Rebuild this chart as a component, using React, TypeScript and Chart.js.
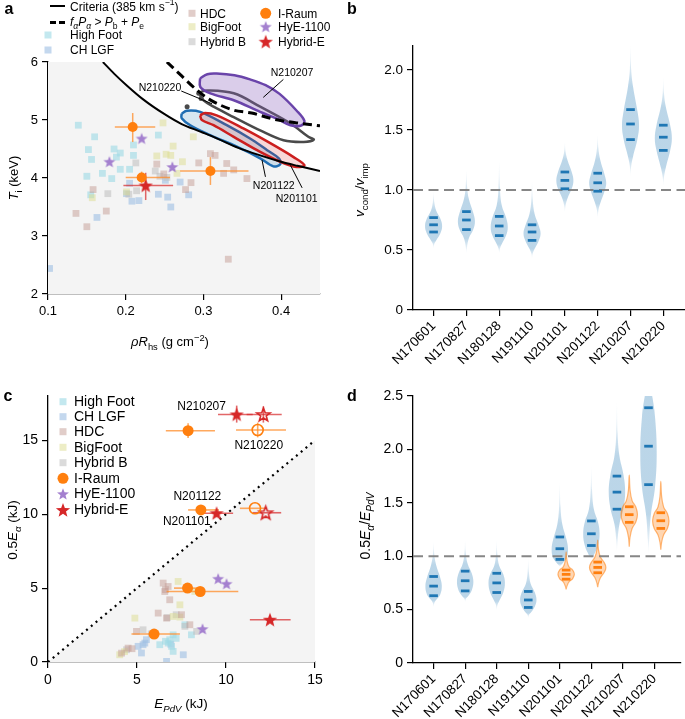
import React, { useEffect, useRef } from 'react';
import { Chart, registerables } from 'chart.js';

Chart.register(...registerables);
const FONT = "'Liberation Sans', Arial, Helvetica, sans-serif";
Chart.defaults.font.family = FONT;
Chart.defaults.color = '#000';

// ---------------- shared ----------------
const SHOTS = ['N170601', 'N170827', 'N180128', 'N191110', 'N201101', 'N201122', 'N210207', 'N210220'];

// ---------------- panel a ----------------
const A_X_RANGE = [0.1, 0.45];
const A_Y_RANGE = [2, 6];
const A_X_TICKS = [0.1, 0.2, 0.3, 0.4];
const A_Y_TICKS = [2, 3, 4, 5, 6];
const A_CRITERIA = [[0.1706, 6.0], [0.185, 5.8], [0.201, 5.6], [0.222, 5.36], [0.25, 5.1], [0.272, 4.93], [0.296, 4.8], [0.318, 4.68], [0.345, 4.52], [0.373, 4.39], [0.4, 4.28], [0.421, 4.21], [0.45, 4.12]];
const A_ALPHA_HEAT = [[0.253, 6.0], [0.272, 5.76], [0.292, 5.51], [0.307, 5.36], [0.339, 5.17], [0.362, 5.12], [0.392, 5.01], [0.42, 4.95], [0.45, 4.9]];
const A_PURPLE = [[0.2957, 5.72], [0.305, 5.79], [0.317, 5.8], [0.34, 5.77], [0.36, 5.7], [0.38, 5.6], [0.398, 5.45], [0.42, 5.16], [0.43, 4.98], [0.425, 4.9], [0.412, 4.91], [0.395, 5.02], [0.373, 5.14], [0.339, 5.34], [0.309, 5.46], [0.296, 5.57]];
const A_GREY = [[0.2957, 5.48], [0.3044, 5.51], [0.339, 5.46], [0.373, 5.23], [0.412, 4.94], [0.435, 4.71], [0.442, 4.66], [0.429, 4.62], [0.403, 4.65], [0.373, 4.82], [0.339, 5.05], [0.313, 5.23], [0.3, 5.34], [0.2957, 5.43]];
const A_GREY_DOTS = [[0.279, 5.23], [0.294, 5.46], [0.297, 5.37]];
const A_BLUE = [[0.272, 5.11], [0.2786, 5.16], [0.2957, 5.14], [0.33, 4.91], [0.36, 4.68], [0.382, 4.48], [0.397, 4.34], [0.399, 4.24], [0.39, 4.2], [0.373, 4.34], [0.343, 4.54], [0.3087, 4.74], [0.283, 4.91], [0.272, 5.03]];
const A_RED = [[0.2957, 5.08], [0.302, 5.12], [0.317, 5.08], [0.352, 4.85], [0.386, 4.6], [0.416, 4.36], [0.43, 4.22], [0.42, 4.19], [0.399, 4.28], [0.369, 4.48], [0.339, 4.71], [0.313, 4.91], [0.298, 5.0]];
const A_HIGH_FOOT = [[0.139, 4.91], [0.16, 4.71], [0.152, 4.49], [0.156, 4.32], [0.185, 4.5], [0.193, 4.43], [0.188, 4.36], [0.21, 4.57], [0.21, 4.39], [0.242, 4.74], [0.17, 4.08], [0.182, 3.99], [0.193, 4.15], [0.205, 4.15], [0.15, 4.03], [0.155, 3.71]];
const A_CH_LGF = [[0.205, 3.91], [0.208, 3.6], [0.217, 3.61], [0.201, 3.73], [0.242, 3.72], [0.254, 3.67], [0.258, 3.5], [0.27, 3.93], [0.281, 3.71], [0.251, 3.96], [0.163, 3.32], [0.102, 2.44]];
const A_HDC = [[0.158, 3.8], [0.136, 3.39], [0.15, 3.16], [0.175, 3.43], [0.24, 4.24], [0.277, 3.8], [0.284, 3.92], [0.294, 4.26], [0.249, 4.07], [0.309, 4.42], [0.315, 4.39], [0.33, 4.25], [0.326, 4.08], [0.339, 4.14], [0.356, 3.99], [0.332, 2.6]];
const A_BIGFOOT = [[0.248, 4.95], [0.261, 4.55], [0.24, 4.38], [0.252, 4.41], [0.258, 4.39], [0.287, 4.71], [0.273, 4.28], [0.266, 4.08], [0.157, 3.66], [0.201, 3.76]];
const A_HYBRID_B = [[0.177, 3.73], [0.213, 4.26], [0.238, 4.12], [0.253, 4.01], [0.214, 3.78], [0.244, 4.03], [0.204, 3.72]];
// [x, y, xLo, xHi, yLo, yHi]
const A_IRAUM = [[0.209, 4.88, 0.186, 0.238, 4.62, 5.12], [0.2205, 4.01, 0.2, 0.257, 3.91, 4.11], [0.309, 4.12, 0.27, 0.358, 3.88, 4.36]];
const A_HYBRID_E = [[0.2257, 3.87, 0.197, 0.261, 3.62, 4.09]];
const A_HYE1100 = [[0.2205, 4.68], [0.179, 4.28], [0.26, 4.19]];
// [label, x, y, lineX1, lineY1, lineX2, lineY2]
const A_LABELS = [
  ['N210207', 0.414, 5.81, 0.4029, 5.7, 0.377, 5.39],
  ['N210220', 0.2441, 5.55, 0.2715, 5.5, 0.311, 5.28],
  ['N201122', 0.3905, 3.86, 0.3798, 4.02, 0.3754, 4.31],
  ['N201101', 0.42, 3.63, 0.427, 3.83, 0.412, 4.22],
];

// ---------------- panel b ----------------
const B_X_RANGE = [-0.627, 7.66];
const B_Y_RANGE = [0, 2.2];
const B_Y_TICKS = [0, 0.5, 1.0, 1.5, 2.0];
const B_PROFILES = [
  [[0.51, 0], [0.55, 0.08], [0.58, 0.3], [0.64, 0.8], [0.7, 1], [0.76, 0.8], [0.83, 0.3], [0.9, 0.08], [0.99, 0]],
  [[0.47, 0], [0.53, 0.08], [0.6, 0.3], [0.67, 0.8], [0.74, 1], [0.81, 0.8], [0.92, 0.3], [1.03, 0.08], [1.17, 0]],
  [[0.47, 0], [0.51, 0.08], [0.55, 0.3], [0.62, 0.8], [0.69, 1], [0.77, 0.8], [0.87, 0.3], [1.02, 0.08], [1.25, 0]],
  [[0.43, 0], [0.47, 0.08], [0.51, 0.3], [0.58, 0.8], [0.64, 1], [0.7, 0.8], [0.8, 0.3], [0.92, 0.08], [1.08, 0]],
  [[0.81, 0], [0.87, 0.08], [0.93, 0.3], [1.01, 0.8], [1.08, 1], [1.15, 0.8], [1.25, 0.3], [1.32, 0.08], [1.4, 0]],
  [[0.76, 0], [0.83, 0.08], [0.89, 0.3], [0.99, 0.8], [1.06, 1], [1.13, 0.8], [1.25, 0.3], [1.35, 0.08], [1.46, 0]],
  [[1.11, 0], [1.2, 0.08], [1.28, 0.3], [1.42, 0.8], [1.54, 1], [1.66, 0.8], [1.86, 0.3], [2.0, 0.08], [2.21, 0]],
  [[1.03, 0], [1.11, 0.08], [1.19, 0.3], [1.33, 0.8], [1.43, 1], [1.54, 0.8], [1.69, 0.3], [1.8, 0.08], [1.94, 0]],
];
const B_QUARTILES = [[0.65, 0.71, 0.77], [0.67, 0.75, 0.82], [0.62, 0.7, 0.78], [0.58, 0.65, 0.71], [1.01, 1.08, 1.15], [0.99, 1.06, 1.14], [1.42, 1.55, 1.67], [1.33, 1.44, 1.54]];

// ---------------- panel c ----------------
const C_X_RANGE = [0, 15];
const C_Y_RANGE = [0, 18];
const C_X_TICKS = [0, 5, 10, 15];
const C_Y_TICKS = [0, 5, 10, 15];
const C_DIAGONAL = [[0, 0], [15, 15]];
const C_HIGH_FOOT = [[6.28, 1.17], [6.84, 1.51], [7.03, 1.84], [7.2, 1.6], [6.94, 1.06], [7.03, 0.72], [7.69, 2.52], [8.06, 1.84], [6.75, 1.28], [6.6, 1.4]];
const C_CH_LGF = [[5.44, 1.28], [5.53, 1.51], [5.06, 1.06], [5.25, 0.61], [6.66, 0.04], [7.6, 0.49], [5.34, 1.17], [6.9, 1.2]];
const C_HDC = [[6.47, 5.34], [6.75, 5.11], [6.56, 4.77], [6.84, 4.21], [6.19, 3.31], [6.66, 2.97], [7.5, 3.2], [4.97, 2.07], [7.97, 2.52], [4.5, 0.94], [4.13, 0.6], [4.72, 0.9], [6.6, 4.9]];
const C_BIGFOOT = [[7.31, 5.45], [7.41, 3.87], [4.88, 2.97], [7.03, 3.08], [7.41, 3.04], [4.03, 0.49], [8.25, 4.77], [4.3, 0.7]];
const C_HYBRID_B = [[5.34, 2.18], [7.69, 2.41], [4.41, 0.83], [8.35, 2.07], [7.2, 3.2], [6.7, 3.0], [5.8, 1.9]];
const C_IRAUM = [[7.87, 15.65, 6.62, 9.38, 15.15, 16.15], [8.59, 10.29, 7.87, 9.6, null, null], [7.84, 5.0, 7.08, 8.63, null, null], [8.55, 4.77, 6.66, 10.69, null, null], [5.96, 1.89, 4.69, 7.41, null, null]];
const C_IRAUM_OPEN = [[11.78, 15.7, 10.56, 13.37, 15.2, 16.2], [11.63, 10.4, 10.78, 12.28, null, null]];
const C_HYBRID_E = [[10.6, 16.75, 9.55, 11.5, 16.2, 17.35], [9.47, 10.07, 8.53, 10.4, null, null], [12.47, 2.86, 11.34, 13.63, null, null]];
const C_HYBRID_E_OPEN = [[12.1, 16.75, 11.16, 13.13, 16.2, 17.3], [12.23, 10.1, 11.5, 13.1, null, null]];
const C_HYE1100 = [[9.56, 5.63], [10.03, 5.29], [8.68, 2.23]];
const C_LABELS = [['N210207', 8.63, 17.25], ['N210220', 11.84, 14.63], ['N201122', 8.39, 11.18], ['N201101', 7.8, 9.5]];

// ---------------- panel d ----------------
const D_X_RANGE = [-0.653, 7.84];
const D_Y_RANGE = [0, 2.5];
const D_Y_TICKS = [0, 0.5, 1.0, 1.5, 2.0, 2.5];
const D_BLUE_SHIFT = [0, 0, 0, 0, 0, 0, -0.19, -0.19];
const D_BLUE_PROFILES = [
  [[0.52, 0], [0.56, 0.08], [0.59, 0.3], [0.64, 0.8], [0.72, 1], [0.8, 0.8], [0.92, 0.3], [1.02, 0.08], [1.14, 0]],
  [[0.57, 0], [0.6, 0.08], [0.62, 0.3], [0.68, 0.8], [0.76, 1], [0.84, 0.8], [0.93, 0.3], [1.03, 0.08], [1.15, 0]],
  [[0.49, 0], [0.54, 0.08], [0.58, 0.3], [0.66, 0.8], [0.75, 1], [0.83, 0.8], [0.91, 0.3], [1.02, 0.08], [1.15, 0]],
  [[0.42, 0], [0.45, 0.08], [0.47, 0.3], [0.53, 0.8], [0.59, 1], [0.66, 0.8], [0.74, 0.3], [0.85, 0.08], [0.98, 0]],
  [[0.9, 0], [0.91, 0.08], [0.93, 0.3], [0.98, 0.8], [1.06, 1], [1.16, 0.8], [1.3, 0.3], [1.47, 0.08], [1.7, 0]],
  [[0.98, 0], [0.99, 0.08], [1.01, 0.3], [1.1, 0.8], [1.21, 1], [1.32, 0.8], [1.44, 0.3], [1.62, 0.08], [1.85, 0]],
  [[1.03, 0], [1.15, 0.08], [1.3, 0.3], [1.45, 0.8], [1.6, 1], [1.76, 0.8], [1.94, 0.3], [2.15, 0.08], [2.45, 0]],
  [[1.01, 0], [1.15, 0.08], [1.39, 0.3], [1.65, 0.8], [1.97, 1], [2.3, 0.8], [2.5, 0.45], [2.56, 0.2], [2.62, 0]],
];
const D_BLUE_QUARTILES = [[0.63, 0.72, 0.81], [0.675, 0.77, 0.86], [0.66, 0.75, 0.84], [0.52, 0.59, 0.67], [0.97, 1.07, 1.18], [1.1, 1.21, 1.33], [1.44, 1.6, 1.75], [1.67, 2.03, 2.39]];
const D_ORANGE_SHOTS = [4, 5, 6, 7];
const D_ORANGE_SHIFT = 0.2;
const D_ORANGE_PROFILES = [
  [[0.69, 0], [0.72, 0.1], [0.76, 0.35], [0.79, 0.8], [0.83, 1], [0.87, 0.8], [0.9, 0.35], [0.96, 0.1], [1.04, 0]],
  [[0.71, 0], [0.75, 0.1], [0.8, 0.35], [0.85, 0.8], [0.895, 1], [0.94, 0.8], [0.99, 0.35], [1.06, 0.1], [1.15, 0]],
  [[1.09, 0], [1.18, 0.1], [1.26, 0.35], [1.32, 0.8], [1.39, 1], [1.46, 0.8], [1.52, 0.35], [1.62, 0.1], [1.76, 0]],
  [[1.06, 0], [1.13, 0.1], [1.2, 0.35], [1.26, 0.8], [1.33, 1], [1.4, 0.8], [1.46, 0.35], [1.56, 0.1], [1.7, 0]],
];
const D_ORANGE_QUARTILES = [[0.785, 0.83, 0.87], [0.845, 0.895, 0.945], [1.317, 1.389, 1.463], [1.26, 1.332, 1.407]];

// ---------------- styles ----------------
const COL_HIGH_FOOT = 'rgba(158,218,229,0.62)';
const COL_CH_LGF = 'rgba(160,192,228,0.62)';
const COL_HDC = 'rgba(196,156,148,0.5)';
const COL_BIGFOOT = 'rgba(219,219,141,0.5)';
const COL_HYBRID_B = 'rgba(190,190,190,0.55)';
const ORANGE = '#ff7f0e';
const ORANGE_ERR = 'rgba(255,140,40,0.75)';
const RED = '#d62728';
const RED_ERR = 'rgba(214,39,40,0.7)';
const PURPLE = '#a480cf';
const SHADE = '#f4f4f4';
const VIOLIN_HW = 0.26;

type Run = { t: string; i?: boolean; s?: 'sub' | 'sup' };
const runFont = (r: Run, size: number, bold = false) =>
  `${r.i ? 'italic ' : ''}${bold ? 'bold ' : ''}${r.s ? (size * 0.72).toFixed(1) : size}px ${FONT}`;

function drawRich(ctx: any, runs: Run[], x: number, y: number, size: number, align = 'left', rot = 0) {
  ctx.save();
  ctx.translate(x, y);
  if (rot) ctx.rotate(rot);
  ctx.fillStyle = '#000';
  ctx.textBaseline = 'alphabetic';
  ctx.textAlign = 'left';
  let w = 0;
  for (const r of runs) { ctx.font = runFont(r, size); w += ctx.measureText(r.t).width; }
  let cx = align === 'center' ? -w / 2 : align === 'right' ? -w : 0;
  for (const r of runs) {
    ctx.font = runFont(r, size);
    const dy = r.s === 'sub' ? size * 0.28 : r.s === 'sup' ? -size * 0.42 : 0;
    ctx.fillText(r.t, cx, dy);
    cx += ctx.measureText(r.t).width;
  }
  ctx.restore();
}

function plainText(ctx: any, t: string, x: number, y: number, size: number, align = 'center', bold = false) {
  ctx.save();
  ctx.font = `${bold ? 'bold ' : ''}${size}px ${FONT}`;
  ctx.fillStyle = '#000';
  ctx.textAlign = align;
  ctx.textBaseline = 'middle';
  ctx.fillText(t, x, y);
  ctx.restore();
}

const starCache = new Map();
function starImage(R: number, fill: string | null, stroke: string | null, lw: number) {
  const key = `${R}|${fill}|${stroke}|${lw}`;
  if (starCache.has(key)) return starCache.get(key);
  const c = document.createElement('canvas');
  const s = Math.ceil(2 * R + lw + 3);
  c.width = s; c.height = s;
  const g = c.getContext('2d') as CanvasRenderingContext2D;
  const cx = s / 2, cy = s / 2 + R * 0.08, r = R * 0.42;
  g.beginPath();
  for (let k = 0; k < 10; k++) {
    const a = -Math.PI / 2 + (k * Math.PI) / 5;
    const rr = k % 2 === 0 ? R : r;
    g.lineTo(cx + rr * Math.cos(a), cy + rr * Math.sin(a));
  }
  g.closePath();
  if (fill) { g.fillStyle = fill; g.fill(); }
  if (stroke) { g.strokeStyle = stroke; g.lineWidth = lw; g.lineJoin = 'miter'; g.stroke(); }
  starCache.set(key, c);
  return c;
}

const pts = (arr: number[][]) => arr.map(([x, y]) => ({ x, y }));

function squares(arr: number[][], color: string, order = 10) {
  return { data: pts(arr), pointStyle: 'rect', pointRadius: 4.8, backgroundColor: color, borderWidth: 0, borderColor: 'transparent', showLine: false, order };
}
function polygon(arr: number[][], border: string, fillColor: string | null, width: number, order: number) {
  const d = pts(arr);
  d.push({ ...d[0] });
  return { data: d, showLine: true, fill: fillColor ? 'shape' : false, backgroundColor: fillColor || 'transparent', borderColor: border, borderWidth: width, pointRadius: 0, tension: 0.35, order, borderJoinStyle: 'round' };
}
function segment(data: any[], color: string, width: number, order = 3, dash: number[] = []) {
  return { data, showLine: true, fill: false, borderColor: color, borderWidth: width, pointRadius: 0, order, borderDash: dash, tension: 0 };
}
function errorBars(rows: any[], color: string, width: number) {
  const out: any[] = [];
  for (const [x, y, xl, xh, yl, yh] of rows) {
    if (xl != null) out.push(segment([{ x: xl, y }, { x: xh, y }], color, width));
    if (yl != null) out.push(segment([{ x, y: yl }, { x, y: yh }], color, width));
  }
  return out;
}
function markers(rows: any[], style: any, radius: number, bg: string, border: string, bw: number, order = 1) {
  return { data: rows.map((r) => ({ x: r[0], y: r[1] })), pointStyle: style, pointRadius: radius, backgroundColor: bg, borderColor: border, borderWidth: bw, showLine: false, order };
}

function violinFill(profile: number[][], rgb: string, alpha: number, tailAlpha: number) {
  return (c: any) => {
    const chart = c.chart;
    const ys = chart && chart.scales && chart.scales.y;
    if (!chart || !chart.chartArea || !ys) return `rgba(${rgb},${alpha})`;
    const lo = profile[0][0], hi = profile[profile.length - 1][0];
    const bLo = profile[2][0], bHi = profile[6][0];
    const p0 = ys.getPixelForValue(lo), p1 = ys.getPixelForValue(hi);
    if (!isFinite(p0) || !isFinite(p1) || p0 === p1) return `rgba(${rgb},${alpha})`;
    const g = chart.ctx.createLinearGradient(0, p0, 0, p1);
    const f = (v: number) => Math.min(1, Math.max(0, (v - lo) / (hi - lo)));
    g.addColorStop(0, `rgba(${rgb},${tailAlpha})`);
    g.addColorStop(f(bLo), `rgba(${rgb},${alpha})`);
    g.addColorStop(f(bHi), `rgba(${rgb},${alpha})`);
    g.addColorStop(1, `rgba(${rgb},${tailAlpha})`);
    return g;
  };
}
function violin(center: number, profile: number[][], rgb: string, alpha: number, tailAlpha: number, border: string, bw: number) {
  const right = profile.map(([y, w]) => ({ x: center + w * VIOLIN_HW, y }));
  const left = profile.slice().reverse().map(([y, w]) => ({ x: center - w * VIOLIN_HW, y }));
  return { data: [...right, ...left.slice(1)], showLine: true, fill: 'shape', backgroundColor: violinFill(profile, rgb, alpha, tailAlpha), borderColor: border, borderWidth: bw, pointRadius: 0, tension: 0.4, order: 6 };
}
function quartileMarks(centers: number[], quartiles: number[][], color: string) {
  const data: any[] = [];
  quartiles.forEach((q, i) => q.forEach((v) => data.push({ x: centers[i], y: v })));
  return { data, pointStyle: 'line', pointRadius: 4.3, borderWidth: 2.8, borderColor: color, backgroundColor: color, showLine: false, order: 1 };
}

function linScale(range: number[], ticks: number[], fmt: (v: number) => string, size: number, fitProp: string, fitVal: number, extraTicks: any = {}) {
  return {
    type: 'linear', min: range[0], max: range[1],
    afterBuildTicks: (s: any) => { s.ticks = ticks.map((v) => ({ value: v })); },
    afterFit: (s: any) => { s[fitProp] = fitVal; s.paddingLeft = 0; s.paddingRight = 0; s.paddingTop = 0; s.paddingBottom = 0; },
    ticks: { callback: (v: number) => fmt(v), font: { size, family: FONT }, color: '#000', padding: 4, autoSkip: false, maxRotation: 0, minRotation: 0, ...extraTicks },
    grid: { display: true, drawOnChartArea: false, drawTicks: true, tickLength: 6, color: '#000', tickColor: '#000', tickWidth: 1.2, lineWidth: 1.2 },
    border: { display: true, color: '#000', width: 1.3 },
  };
}

function baseOptions(padding: any, x: any, y: any) {
  return {
    responsive: false, animation: false, devicePixelRatio: 1, events: [],
    layout: { padding, autoPadding: false },
    plugins: { legend: { display: false }, tooltip: { enabled: false } },
    scales: { x, y },
  };
}

const fmt1 = (v: number) => (v === 0 ? '0' : v.toFixed(1));

// ---------------- builders ----------------
function buildA() {
  const redStar = starImage(7.5, RED, null, 0);
  const purpleStar = starImage(6.3, PURPLE, null, 0);
  const datasets: any[] = [
    { data: pts([[A_X_RANGE[0], A_Y_RANGE[1]], ...A_CRITERIA]), showLine: true, fill: 'start', backgroundColor: SHADE, borderWidth: 0, borderColor: 'transparent', pointRadius: 0, cubicInterpolationMode: 'monotone', order: 30 },
    squares(A_HDC, COL_HDC), squares(A_BIGFOOT, COL_BIGFOOT), squares(A_HYBRID_B, COL_HYBRID_B), squares(A_HIGH_FOOT, COL_HIGH_FOOT), squares(A_CH_LGF, COL_CH_LGF),
    polygon(A_PURPLE, '#6a44aa', 'rgba(140,100,190,0.32)', 2.5, 8),
    polygon(A_GREY, '#4a4a4a', null, 2.5, 8),
    { data: pts(A_GREY_DOTS), pointStyle: 'circle', pointRadius: 2.5, backgroundColor: '#4a4a4a', borderWidth: 0, showLine: false, order: 8 },
    polygon(A_BLUE, '#1f6db3', 'rgba(31,119,180,0.18)', 2.5, 8),
    polygon(A_RED, '#cc1f1f', 'rgba(214,39,40,0.18)', 2.5, 7),
    { data: pts(A_CRITERIA), showLine: true, fill: false, borderColor: '#000', borderWidth: 2, pointRadius: 0, cubicInterpolationMode: 'monotone', order: 5 },
    { data: pts(A_ALPHA_HEAT), showLine: true, fill: false, borderColor: '#000', borderWidth: 3, borderDash: [9, 5], pointRadius: 0, cubicInterpolationMode: 'monotone', order: 5 },
    ...errorBars(A_IRAUM, ORANGE_ERR, 1.5),
    ...errorBars(A_HYBRID_E, RED_ERR, 1.5),
    markers(A_IRAUM, 'circle', 5, ORANGE, ORANGE, 0),
    markers(A_HYE1100, purpleStar, 6, PURPLE, PURPLE, 0),
    markers(A_HYBRID_E, redStar, 6, RED, RED, 0),
  ];
  const deco = {
    id: 'decoA',
    afterDraw(chart: any) {
      const ctx = chart.ctx, xs = chart.scales.x, ys = chart.scales.y;
      plainText(ctx, 'a', 9, 10, 16, 'center', true);
      // legend
      ctx.save();
      ctx.strokeStyle = '#000'; ctx.lineWidth = 2;
      ctx.beginPath(); ctx.moveTo(50, 6); ctx.lineTo(65, 6); ctx.stroke();
      ctx.lineWidth = 3; ctx.setLineDash([6, 3]);
      ctx.beginPath(); ctx.moveTo(50, 22.5); ctx.lineTo(66, 22.5); ctx.stroke();
      ctx.setLineDash([]);
      const sqr = (x: number, y: number, c: string) => { ctx.fillStyle = c; ctx.fillRect(x - 3.5, y - 3.5, 7, 7); };
      sqr(48, 35, COL_HIGH_FOOT); sqr(48, 50, COL_CH_LGF);
      sqr(192, 13.3, COL_HDC); sqr(192, 26.7, COL_BIGFOOT); sqr(192, 41.7, COL_HYBRID_B);
      ctx.fillStyle = ORANGE; ctx.beginPath(); ctx.arc(265.7, 13.3, 5.5, 0, Math.PI * 2); ctx.fill();
      ctx.drawImage(purpleStar, 265.7 - purpleStar.width / 2, 26.7 - purpleStar.height / 2);
      ctx.drawImage(redStar, 265.7 - redStar.width / 2, 41.7 - redStar.height / 2);
      ctx.restore();
      drawRich(ctx, [{ t: 'Criteria (385 km s' }, { t: '−1', s: 'sup' }, { t: ')' }], 70, 10.5, 12);
      drawRich(ctx, [{ t: 'f', i: true }, { t: 'α', i: true, s: 'sub' }, { t: 'P', i: true }, { t: 'α', i: true, s: 'sub' }, { t: ' > ' }, { t: 'P', i: true }, { t: 'b', s: 'sub' }, { t: ' + ' }, { t: 'P', i: true }, { t: 'e', s: 'sub' }], 70, 25.5, 12);
      drawRich(ctx, [{ t: 'High Foot' }], 70, 39.3, 12);
      drawRich(ctx, [{ t: 'CH LGF' }], 70, 54, 12);
      drawRich(ctx, [{ t: 'HDC' }], 200, 17.5, 12);
      drawRich(ctx, [{ t: 'BigFoot' }], 200, 31, 12);
      drawRich(ctx, [{ t: 'Hybrid B' }], 200, 46, 12);
      drawRich(ctx, [{ t: 'I-Raum' }], 278, 17.5, 12);
      drawRich(ctx, [{ t: 'HyE-1100' }], 278, 31, 12);
      drawRich(ctx, [{ t: 'Hybrid-E' }], 278, 46, 12);
      // annotations
      ctx.save();
      ctx.strokeStyle = '#000'; ctx.lineWidth = 1;
      for (const [t, x, y, x1, y1, x2, y2] of A_LABELS as any[]) {
        ctx.beginPath(); ctx.moveTo(xs.getPixelForValue(x1), ys.getPixelForValue(y1)); ctx.lineTo(xs.getPixelForValue(x2), ys.getPixelForValue(y2)); ctx.stroke();
        plainText(ctx, t, xs.getPixelForValue(x), ys.getPixelForValue(y), 10.5);
      }
      ctx.restore();
      // axis titles
      drawRich(ctx, [{ t: 'T', i: true }, { t: 'i', s: 'sub' }, { t: ' (keV)' }], 18, 178, 13, 'center', -Math.PI / 2);
      drawRich(ctx, [{ t: 'ρR', i: true }, { t: 'hs', s: 'sub' }, { t: ' (g cm' }, { t: '−2', s: 'sup' }, { t: ')' }], 170, 346, 13, 'center');
    },
  };
  return {
    type: 'scatter',
    data: { datasets },
    options: baseOptions({ left: 0, top: 62, right: 20, bottom: 0 },
      linScale(A_X_RANGE, A_X_TICKS, (v) => v.toFixed(1), 13, 'height', 61),
      linScale(A_Y_RANGE, A_Y_TICKS, (v) => String(v), 13, 'width', 48)),
    plugins: [deco],
  };
}

function buildB() {
  const centers = SHOTS.map((_, i) => i);
  const datasets: any[] = [
    ...B_PROFILES.map((p, i) => violin(centers[i], p, '31,119,180', 0.3, 0.0, 'transparent', 0)),
    quartileMarks(centers, B_QUARTILES, '#1f77b4'),
    segment([{ x: B_X_RANGE[0], y: 1 }, { x: B_X_RANGE[1], y: 1 }], 'rgba(128,128,128,0.95)', 2, 2, [10, 5.5]),
  ];
  const deco = {
    id: 'decoB',
    afterDraw(chart: any) {
      const ctx = chart.ctx;
      plainText(ctx, 'b', 12, 10, 16, 'center', true);
      drawRich(ctx, [{ t: 'v', i: true }, { t: 'cond', s: 'sub' }, { t: '/' }, { t: 'v', i: true }, { t: 'imp', s: 'sub' }], 24, 190, 13.5, 'center', -Math.PI / 2);
    },
  };
  return {
    type: 'scatter',
    data: { datasets },
    options: baseOptions({ left: 0, top: 46, right: 0, bottom: 0 },
      linScale(B_X_RANGE, centers, (v) => SHOTS[v] || '', 13.5, 'height', 80, { minRotation: 45, maxRotation: 45, padding: 2 }),
      linScale(B_Y_RANGE, B_Y_TICKS, fmt1, 13.5, 'width', 73)),
    plugins: [deco],
  };
}

function buildC() {
  const redStar = starImage(7.5, RED, null, 0);
  const redStarOpen = starImage(7, null, RED, 1.6);
  const purpleStar = starImage(6.3, PURPLE, null, 0);
  const datasets: any[] = [
    { data: pts(C_DIAGONAL), showLine: true, fill: 'start', backgroundColor: SHADE, borderColor: '#000', borderWidth: 2.2, borderDash: [2, 4.2], pointRadius: 0, order: 30 },
    squares(C_HDC, COL_HDC), squares(C_BIGFOOT, COL_BIGFOOT), squares(C_HYBRID_B, COL_HYBRID_B), squares(C_HIGH_FOOT, COL_HIGH_FOOT), squares(C_CH_LGF, COL_CH_LGF),
    ...errorBars(C_IRAUM, ORANGE_ERR, 1.6),
    ...errorBars(C_IRAUM_OPEN, ORANGE_ERR, 1.6),
    ...errorBars(C_HYBRID_E, RED_ERR, 1.6),
    ...errorBars(C_HYBRID_E_OPEN, RED_ERR, 1.6),
    markers(C_IRAUM, 'circle', 5.5, ORANGE, ORANGE, 0),
    markers(C_IRAUM_OPEN, 'circle', 5.5, 'transparent', ORANGE, 1.6),
    markers(C_HYE1100, purpleStar, 6, PURPLE, PURPLE, 0),
    markers(C_HYBRID_E, redStar, 6, RED, RED, 0),
    markers(C_HYBRID_E_OPEN, redStarOpen, 6, 'transparent', RED, 0),
  ];
  const deco = {
    id: 'decoC',
    afterDraw(chart: any) {
      const ctx = chart.ctx, xs = chart.scales.x, ys = chart.scales.y;
      plainText(ctx, 'c', 8, 37, 16, 'center', true);
      const rows = [41.7, 56.7, 71.7, 87.3, 102.7, 118.3, 134, 150];
      const names = ['High Foot', 'CH LGF', 'HDC', 'BigFoot', 'Hybrid B', 'I-Raum', 'HyE-1100', 'Hybrid-E'];
      const cols = [COL_HIGH_FOOT, COL_CH_LGF, COL_HDC, COL_BIGFOOT, COL_HYBRID_B];
      ctx.save();
      rows.forEach((y, i) => {
        if (i < 5) { ctx.fillStyle = cols[i]; ctx.fillRect(63 - 3.5, y - 3.5, 7, 7); }
        else if (i === 5) { ctx.fillStyle = ORANGE; ctx.beginPath(); ctx.arc(63, y, 5.5, 0, Math.PI * 2); ctx.fill(); }
        else { const img = i === 6 ? purpleStar : redStar; ctx.drawImage(img, 63 - img.width / 2, y - img.height / 2); }
      });
      ctx.restore();
      rows.forEach((y, i) => plainText(ctx, names[i], 74, y + 0.5, 14, 'left'));
      for (const [t, x, y] of C_LABELS as any[]) plainText(ctx, t, xs.getPixelForValue(x), ys.getPixelForValue(y), 12);
      drawRich(ctx, [{ t: '0.5' }, { t: 'E', i: true }, { t: 'α', i: true, s: 'sub' }, { t: ' (kJ)' }], 17, 170, 13.5, 'center', -Math.PI / 2);
      drawRich(ctx, [{ t: 'E', i: true }, { t: 'PdV', i: true, s: 'sub' }, { t: ' (kJ)' }], 181, 348, 13.5, 'center');
    },
  };
  return {
    type: 'scatter',
    data: { datasets },
    options: baseOptions({ left: 0, top: 36, right: 25, bottom: 0 },
      linScale(C_X_RANGE, C_X_TICKS, (v) => String(v), 14, 'height', 57),
      linScale(C_Y_RANGE, C_Y_TICKS, (v) => String(v), 14, 'width', 48)),
    plugins: [deco],
  };
}

function buildD() {
  const ticks = SHOTS.map((_, i) => i);
  const blueCenters = ticks.map((i) => i + D_BLUE_SHIFT[i]);
  const orangeCenters = D_ORANGE_SHOTS.map((i) => i + D_ORANGE_SHIFT);
  const datasets: any[] = [
    ...D_BLUE_PROFILES.map((p, i) => violin(blueCenters[i], p, '31,119,180', 0.3, 0.0, 'transparent', 0)),
    ...D_ORANGE_PROFILES.map((p, i) => ({ ...violin(orangeCenters[i], p, '255,127,14', 0.32, 0.2, 'rgba(255,127,14,0.55)', 1.2), order: 5 })),
    quartileMarks(blueCenters, D_BLUE_QUARTILES, '#1f77b4'),
    quartileMarks(orangeCenters, D_ORANGE_QUARTILES, ORANGE),
    segment([{ x: D_X_RANGE[0], y: 1 }, { x: D_X_RANGE[1], y: 1 }], 'rgba(128,128,128,0.95)', 2, 2, [10, 5.5]),
  ];
  const deco = {
    id: 'decoD',
    afterDraw(chart: any) {
      const ctx = chart.ctx;
      plainText(ctx, 'd', 12, 37, 16, 'center', true);
      drawRich(ctx, [{ t: '0.5' }, { t: 'E', i: true }, { t: 'α', i: true, s: 'sub' }, { t: '/' }, { t: 'E', i: true }, { t: 'PdV', i: true, s: 'sub' }], 30, 166, 14, 'center', -Math.PI / 2);
    },
  };
  return {
    type: 'scatter',
    data: { datasets },
    options: baseOptions({ left: 0, top: 36, right: 4, bottom: 0 },
      linScale(D_X_RANGE, ticks, (v) => SHOTS[v] || '', 13.5, 'height', 56, { minRotation: 45, maxRotation: 45, padding: 2 }),
      linScale(D_Y_RANGE, D_Y_TICKS, fmt1, 14, 'width', 73)),
    plugins: [deco],
  };
}

function Panel({ left, top, width, height, build }: any) {
  const ref = useRef<HTMLCanvasElement | null>(null);
  useEffect(() => {
    if (!ref.current) return;
    const chart = new Chart(ref.current, build());
    return () => chart.destroy();
  }, []);
  return <canvas ref={ref} width={width} height={height} style={{ position: 'absolute', left, top, width, height }} />;
}

export default function App() {
  return (
    <div style={{ position: 'absolute', left: 0, top: 0, width: 685, height: 719, background: '#fff', overflow: 'hidden' }}>
      <Panel left={0} top={0} width={340} height={355} build={buildA} />
      <Panel left={340} top={0} width={345} height={390} build={buildB} />
      <Panel left={0} top={360} width={340} height={359} build={buildC} />
      <Panel left={340} top={360} width={345} height={359} build={buildD} />
    </div>
  );
}
